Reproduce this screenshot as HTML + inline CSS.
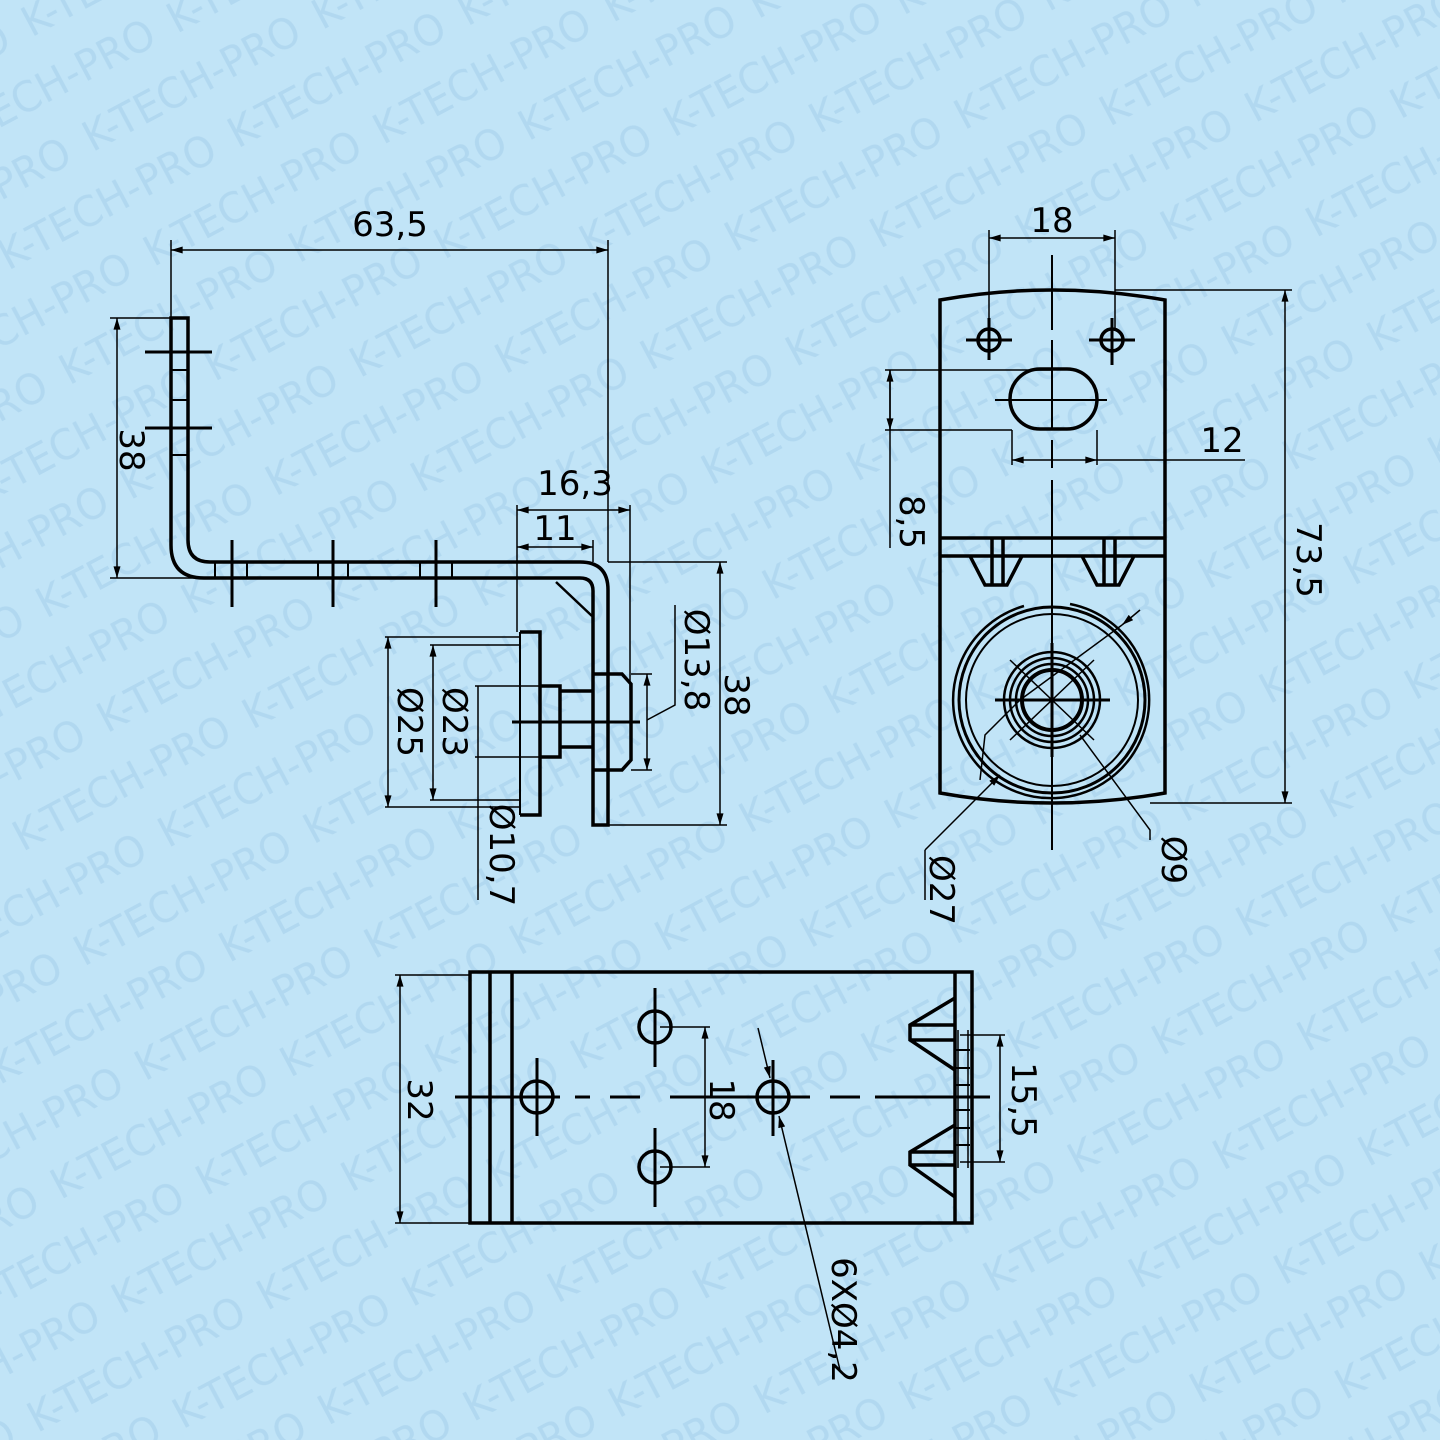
<!DOCTYPE html>
<html><head><meta charset="utf-8"><style>
html,body{margin:0;padding:0;background:#c1e4f7;width:1440px;height:1440px;overflow:hidden;}
svg{display:block;overflow:hidden}
</style></head><body>
<svg width="1440" height="1440" viewBox="0 0 1440 1440" xmlns="http://www.w3.org/2000/svg" font-family="'DejaVu Sans','Liberation Sans',sans-serif">
<defs>
<marker id="a" viewBox="0 0 10 6" refX="10" refY="3" markerWidth="12" markerHeight="7" orient="auto-start-reverse" markerUnits="userSpaceOnUse"><path d="M0,0L10,3L0,6z" fill="#000"/></marker>
<pattern id="wm" patternUnits="userSpaceOnUse" width="260" height="130" patternTransform="rotate(-28)">
<g fill="#b1d8f0" font-size="42">
<text x="10" y="48" textLength="240" lengthAdjust="spacingAndGlyphs">K-TECH-PRO</text>
<text x="140" y="113" textLength="240" lengthAdjust="spacingAndGlyphs">K-TECH-PRO</text>
<text x="-120" y="113" textLength="240" lengthAdjust="spacingAndGlyphs">K-TECH-PRO</text>
</g>
</pattern>
</defs>
<rect width="1440" height="1440" fill="#c1e4f7"/>
<rect width="1440" height="1440" fill="url(#wm)"/>

<g fill="none" stroke="#000" stroke-width="1.5">
<line x1="171" y1="240" x2="171" y2="318"/>
<line x1="608" y1="240" x2="608" y2="562"/>
<line x1="171" y1="250" x2="608" y2="250" marker-start="url(#a)" marker-end="url(#a)"/>
<line x1="110" y1="318" x2="171" y2="318"/>
<line x1="110" y1="578" x2="215" y2="578"/>
<line x1="117" y1="318" x2="117" y2="578" marker-start="url(#a)" marker-end="url(#a)"/>
</g>
<g fill="none" stroke="#000" stroke-width="3.5">
<path d="M171,318 L171,545 Q171,578 204,578 L580,578 Q593,578 593,591 L593,825 L608,825 L608,590 Q608,562 580,562 L210,562 Q188,562 188,540 L188,318 Z"/>
<path d="M520,632 L540,632 L540,815 L520,815"/>
<path d="M540,686 L560,686 L560,757 L540,757"/>
<path d="M560,691 L594,691 M560,747 L594,747"/>
<path d="M594,674 L622,674 L631,684 L631,760 L622,770 L594,770"/>
<line x1="520" y1="632" x2="520" y2="815" stroke-width="2"/>
<line x1="171" y1="352" x2="188" y2="352" stroke-width="2"/>
<line x1="171" y1="370" x2="188" y2="370" stroke-width="2"/>
<line x1="171" y1="400" x2="188" y2="400" stroke-width="2"/>
<line x1="171" y1="455" x2="188" y2="455" stroke-width="2"/>
<line x1="145" y1="352" x2="212" y2="352" stroke-width="3"/>
<line x1="145" y1="428" x2="212" y2="428" stroke-width="3"/>
<line x1="232" y1="540" x2="232" y2="607" stroke-width="3"/>
<line x1="333" y1="540" x2="333" y2="607" stroke-width="3"/>
<line x1="436" y1="540" x2="436" y2="607" stroke-width="3"/>
<path d="M215,562 L215,578 M247,562 L247,578 M318,562 L318,578 M348,562 L348,578 M420,562 L420,578 M452,562 L452,578" stroke-width="2"/>
<line x1="556" y1="582" x2="592" y2="616" stroke-width="2.5"/>
<line x1="512" y1="722" x2="640" y2="722" stroke-width="3"/>
</g>
<g fill="none" stroke="#000" stroke-width="1.5">
<line x1="385" y1="637" x2="520" y2="637"/>
<line x1="385" y1="807" x2="520" y2="807"/>
<line x1="388" y1="637" x2="388" y2="807" marker-start="url(#a)" marker-end="url(#a)"/>
<line x1="430" y1="645" x2="520" y2="645"/>
<line x1="430" y1="800" x2="520" y2="800"/>
<line x1="433" y1="645" x2="433" y2="800" marker-start="url(#a)" marker-end="url(#a)"/>
<line x1="475" y1="686" x2="540" y2="686"/>
<line x1="475" y1="757" x2="540" y2="757"/>
<line x1="478" y1="686" x2="478" y2="900"/>
<line x1="517" y1="505" x2="517" y2="632"/>
<line x1="630" y1="505" x2="630" y2="690"/>
<line x1="593" y1="540" x2="593" y2="562"/>
<line x1="517" y1="510" x2="630" y2="510" marker-start="url(#a)" marker-end="url(#a)"/>
<line x1="517" y1="547" x2="593" y2="547" marker-start="url(#a)" marker-end="url(#a)"/>
<line x1="631" y1="674" x2="652" y2="674"/>
<line x1="631" y1="770" x2="652" y2="770"/>
<line x1="647" y1="674" x2="647" y2="770" marker-start="url(#a)" marker-end="url(#a)"/>
<polyline points="647,720 675,705 675,605"/>
<line x1="608" y1="562" x2="727" y2="562"/>
<line x1="608" y1="825" x2="727" y2="825"/>
<line x1="720" y1="562" x2="720" y2="825" marker-start="url(#a)" marker-end="url(#a)"/>
</g>

<g fill="none" stroke="#000" stroke-width="3.5">
<path d="M940,300 Q1052,280 1165,300 L1165,793 Q1052,813 940,793 Z"/>
<line x1="940" y1="538" x2="1165" y2="538"/>
<line x1="940" y1="556" x2="1165" y2="556"/>
<path d="M970,556 L985,585 L1007,585 L1022,556 M992,538 L992,585 M1003,538 L1003,585"/>
<path d="M1082,556 L1097,585 L1119,585 L1134,556 M1104,538 L1104,585 M1115,538 L1115,585"/>
<circle cx="989" cy="340" r="11"/>
<circle cx="1112" cy="340" r="11"/>
<rect x="1010" y="369" width="87" height="60" rx="30" ry="30"/>
<circle cx="1052" cy="700" r="93" stroke-width="3"/>
<circle cx="1052" cy="700" r="86" stroke-width="2"/>
<path d="M1024,606 A98,98 0 1 0 1070,604" stroke-width="2.5"/>
<circle cx="1052" cy="700" r="48" stroke-width="2.5"/>
<circle cx="1052" cy="700" r="42" stroke-width="2.5"/>
<circle cx="1052" cy="700" r="36" stroke-width="2.5"/>
<circle cx="1052" cy="700" r="30" stroke-width="4"/>
</g>
<g fill="none" stroke="#000" stroke-width="2">
<path d="M1052,255 L1052,330 M1052,340 L1052,430 M1052,440 L1052,468 M1052,480 L1052,850"/>
<path d="M966,340 L1012,340 M989,318 L989,360 M1089,340 L1135,340 M1112,318 L1112,365" stroke-width="3"/>
<line x1="995" y1="400" x2="1107" y2="400"/>
<line x1="995" y1="700" x2="1110" y2="700" stroke-width="3"/>
<line x1="1052" y1="643" x2="1052" y2="757" stroke-width="3"/>
<line x1="1010" y1="660" x2="1094" y2="740" stroke-width="1.5"/>
<line x1="1094" y1="660" x2="1010" y2="740" stroke-width="1.5"/>
</g>
<g fill="none" stroke="#000" stroke-width="1.5">
<line x1="989" y1="230" x2="989" y2="330"/>
<line x1="1115" y1="230" x2="1115" y2="330"/>
<line x1="989" y1="238" x2="1115" y2="238" marker-start="url(#a)" marker-end="url(#a)"/>
<line x1="885" y1="370" x2="1052" y2="370"/>
<line x1="885" y1="430" x2="1012" y2="430"/>
<line x1="890" y1="370" x2="890" y2="548"/>
<line x1="890" y1="370" x2="890" y2="430" marker-start="url(#a)" marker-end="url(#a)"/>
<line x1="1012" y1="430" x2="1012" y2="465"/>
<line x1="1097" y1="430" x2="1097" y2="465"/>
<line x1="1012" y1="460" x2="1097" y2="460" marker-start="url(#a)" marker-end="url(#a)"/>
<line x1="1097" y1="460" x2="1245" y2="460"/>
<line x1="1115" y1="290" x2="1292" y2="290"/>
<line x1="1150" y1="803" x2="1292" y2="803"/>
<line x1="1285" y1="290" x2="1285" y2="803" marker-start="url(#a)" marker-end="url(#a)"/>
<line x1="1140" y1="610" x2="1122" y2="625" marker-end="url(#a)"/>
<line x1="1122" y1="625" x2="1020" y2="700"/>
<polyline points="1020,700 985,735 980,780" />
<line x1="1000" y1="775" x2="925" y2="850" marker-start="url(#a)"/>
<line x1="925" y1="850" x2="925" y2="900"/>
<polyline points="1080,735 1150,830 1150,840"/>
</g>

<g fill="none" stroke="#000" stroke-width="3.5">
<rect x="470" y="972" width="502" height="251"/>
<line x1="490" y1="972" x2="490" y2="1223"/>
<line x1="512" y1="972" x2="512" y2="1223"/>
<line x1="955" y1="972" x2="955" y2="1223"/>
<path d="M955,998 L910,1025 L910,1040 L955,1070 M910,1025 L955,1025 M910,1040 L955,1040"/>
<path d="M955,1125 L910,1152 L910,1165 L955,1197 M910,1152 L955,1152 M910,1165 L955,1165"/>
<circle cx="537" cy="1097" r="16"/>
<circle cx="655" cy="1027" r="16"/>
<circle cx="655" cy="1167" r="16"/>
<circle cx="773" cy="1097" r="16"/>
<path d="M537,1058 L537,1136 M655,988 L655,1067 M655,1128 L655,1207 M773,1060 L773,1136" stroke-width="3"/>
<path d="M514,1097 L560,1097 M750,1097 L797,1097" stroke-width="3"/>
</g>
<g fill="none" stroke="#000" stroke-width="2">
<path d="M455,1097 L560,1097 M575,1097 L590,1097 M610,1097 L640,1097 M670,1097 L760,1097 M790,1097 L810,1097 M830,1097 L860,1097 M875,1097 L990,1097" stroke-width="3"/>
<path d="M958,1030 L958,1168 M968,1030 L968,1168" stroke-width="1.5"/>
<path d="M955,1050 L970,1050 M955,1068 L970,1068 M955,1085 L970,1085 M955,1110 L970,1110 M955,1128 L970,1128 M955,1145 L970,1145" stroke-width="2"/>
</g>
<g fill="none" stroke="#000" stroke-width="1.5">
<line x1="395" y1="975" x2="470" y2="975"/>
<line x1="395" y1="1223" x2="470" y2="1223"/>
<line x1="400" y1="975" x2="400" y2="1223" marker-start="url(#a)" marker-end="url(#a)"/>
<line x1="660" y1="1027" x2="710" y2="1027"/>
<line x1="660" y1="1167" x2="710" y2="1167"/>
<line x1="705" y1="1027" x2="705" y2="1167" marker-start="url(#a)" marker-end="url(#a)"/>
<line x1="960" y1="1035" x2="1005" y2="1035"/>
<line x1="960" y1="1162" x2="1005" y2="1162"/>
<line x1="1000" y1="1035" x2="1000" y2="1162" marker-start="url(#a)" marker-end="url(#a)"/>
<line x1="758" y1="1028" x2="770" y2="1078" marker-end="url(#a)"/>
<line x1="840" y1="1370" x2="779" y2="1116" marker-end="url(#a)"/>
</g>

<g fill="#000" font-size="34">
<text x="390" y="236" text-anchor="middle">63,5</text>
<text x="575" y="495" text-anchor="middle">16,3</text>
<text x="555" y="540" text-anchor="middle">11</text>
<text x="1052" y="232" text-anchor="middle">18</text>
<text x="1222" y="452" text-anchor="middle">12</text>
<text transform="translate(120,450) rotate(90)" text-anchor="middle">38</text>
<text transform="translate(398,722) rotate(90)" text-anchor="middle">Ø25</text>
<text transform="translate(443,722) rotate(90)" text-anchor="middle">Ø23</text>
<text transform="translate(490,855) rotate(90)" text-anchor="middle">Ø10,7</text>
<text transform="translate(685,660) rotate(90)" text-anchor="middle">Ø13,8</text>
<text transform="translate(725,695) rotate(90)" text-anchor="middle">38</text>
<text transform="translate(900,522) rotate(90)" text-anchor="middle">8,5</text>
<text transform="translate(1297,560) rotate(90)" text-anchor="middle">73,5</text>
<text transform="translate(930,890) rotate(90)" text-anchor="middle">Ø27</text>
<text transform="translate(1162,860) rotate(90)" text-anchor="middle">Ø9</text>
<text transform="translate(408,1100) rotate(90)" text-anchor="middle">32</text>
<text transform="translate(710,1100) rotate(90)" text-anchor="middle">18</text>
<text transform="translate(1012,1100) rotate(90)" text-anchor="middle">15,5</text>
<text transform="translate(832,1320) rotate(90)" text-anchor="middle">6XØ4,2</text>
</g>
</svg>
</body></html>
